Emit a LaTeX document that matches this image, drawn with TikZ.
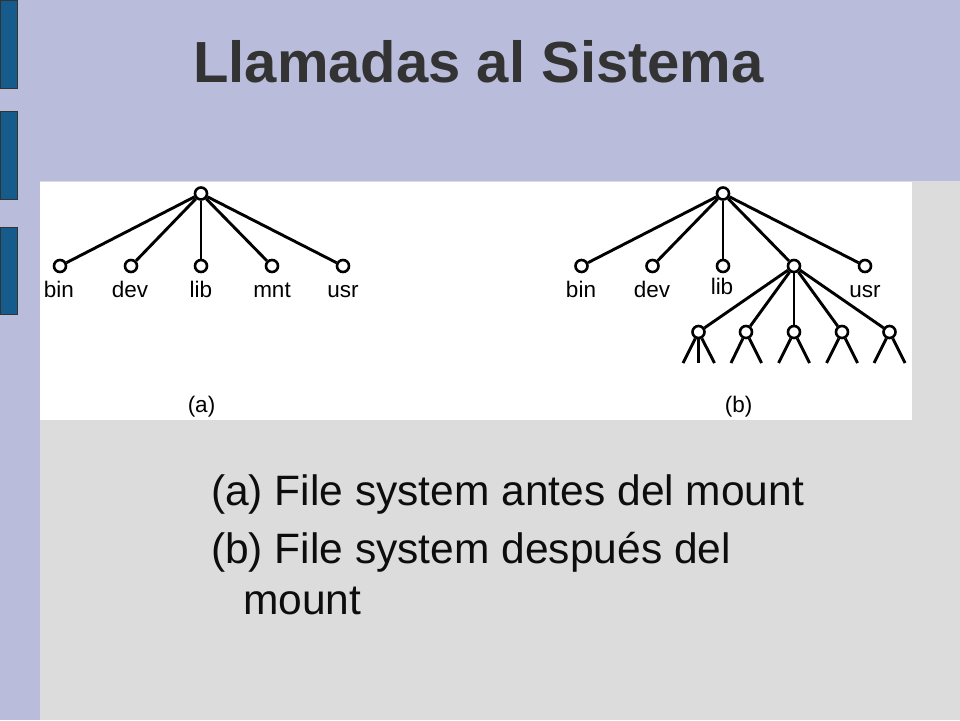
\documentclass[tikz,border=0pt]{standalone}
\usepackage{fontspec}
\setmainfont{Liberation Sans}
\usepackage{tikz}
\usetikzlibrary{positioning}
\definecolor{lavender}{HTML}{B9BCDA}
\definecolor{panel}{HTML}{DCDCDC}
\definecolor{barblue}{HTML}{155B8C}
\definecolor{titlegrey}{HTML}{333333}
\tikzset{
  dir/.style={draw, circle, fill=white, minimum size=12pt, inner sep=0pt, line width=2.6pt},
  edge/.style={line width=2.9pt},
  lbl/.style={anchor=base, inner sep=0pt, font=\fontsize{22.5}{26}\selectfont},
  bar/.style={fill=barblue, draw=black!80, line width=1pt},
  bullet/.style={anchor=base west, inner sep=0pt, text=black!95, font=\fontsize{42.5}{50}\selectfont}
}

\begin{document}
\begin{tikzpicture}[x=1pt,y=-1pt]
\useasboundingbox (0,0) rectangle (960,720);
%background
\fill[lavender] (0,0) rectangle (960,720);
\fill[panel] (40,181) rectangle (960,720);
\fill[white] (40,182) rectangle (912,420);
\draw[bar] (0,0) rectangle (17,88);
\draw[bar] (0,111.5) rectangle (17,199.5);
\draw[bar] (0,227.5) rectangle (17,314.5);
\node[anchor=base west, inner sep=0pt, text=titlegrey, font=\fontsize{58}{66}\selectfont\bfseries] (title) at (193,82) {Llamadas al Sistema};

%(a) before the mount
\node[dir] (ra) at (201,193.5) {};
\node[dir] (abin) at (60,266) {};
\node[dir] (adev) at (131,266) {};
\node[dir] (alib) at (201,266) {};
\node[dir] (amnt) at (272,266) {};
\node[dir] (ausr) at (343,266) {};
\draw[edge] (ra) -- (abin);
\draw[edge] (ra) -- (adev);
\draw[edge] (ra) -- (alib);
\draw[edge] (ra) -- (amnt);
\draw[edge] (ra) -- (ausr);
\node[lbl] (labin) at (59,297) {bin};
\node[lbl] (ladev) at (130,297) {dev};
\node[lbl] (lalib) at (201,297) {lib};
\node[lbl] (lamnt) at (272,297) {mnt};
\node[lbl] (lausr) at (343,297) {usr};
\node[lbl] (capa) at (201.5,412) {(a)};

%(b) after the mount
\node[dir] (rb) at (723,193.5) {};
\node[dir] (bbin) at (581.5,266) {};
\node[dir] (bdev) at (652.5,266) {};
\node[dir] (blib) at (723,266) {};
\node[dir] (bmnt) at (794,266) {};
\node[dir] (busr) at (865,266) {};
\draw[edge] (rb) -- (bbin);
\draw[edge] (rb) -- (bdev);
\draw[edge] (rb) -- (blib);
\draw[edge] (rb) -- (bmnt);
\draw[edge] (rb) -- (busr);
\node[lbl] (lbbin) at (581,297) {bin};
\node[lbl] (lbdev) at (652,297) {dev};
\node[lbl] (lblib) at (722,294.5) {lib};
\node[lbl] (lbusr) at (865,297) {usr};
\node[lbl] (capb) at (738.5,412) {(b)};

%mounted tree
\node[dir] (m1) at (698.5,332) {};
\node[dir] (m2) at (746,332) {};
\node[dir] (m3) at (794,332) {};
\node[dir] (m4) at (842,332) {};
\node[dir] (m5) at (889.5,332) {};
\draw[edge] (bmnt) -- (m1);
\draw[edge] (bmnt) -- (m2);
\draw[edge] (bmnt) -- (m3);
\draw[edge] (bmnt) -- (m4);
\draw[edge] (bmnt) -- (m5);
\coordinate (m1a) at (683,363);
\coordinate (m1b) at (698.5,363);
\coordinate (m1c) at (714.5,363);
\coordinate (m2a) at (731,363);
\coordinate (m2b) at (761.5,363);
\coordinate (m3a) at (778.5,363);
\coordinate (m3b) at (809.5,363);
\coordinate (m4a) at (826.5,363);
\coordinate (m4b) at (857.5,363);
\coordinate (m5a) at (874,363);
\coordinate (m5b) at (905,363);
\draw[edge] (m1) -- (m1a);
\draw[edge] (m1) -- (m1b);
\draw[edge] (m1) -- (m1c);
\draw[edge] (m2) -- (m2a);
\draw[edge] (m2) -- (m2b);
\draw[edge] (m3) -- (m3a);
\draw[edge] (m3) -- (m3b);
\draw[edge] (m4) -- (m4a);
\draw[edge] (m4) -- (m4b);
\draw[edge] (m5) -- (m5a);
\draw[edge] (m5) -- (m5b);

%text below
\node[bullet] (ta) at (211,505) {(a) File system antes del mount};
\node[bullet] (tb) at (211,563) {(b) File system después del};
\node[bullet] (tc) at (243,614) {mount};
\end{tikzpicture}
\end{document}
